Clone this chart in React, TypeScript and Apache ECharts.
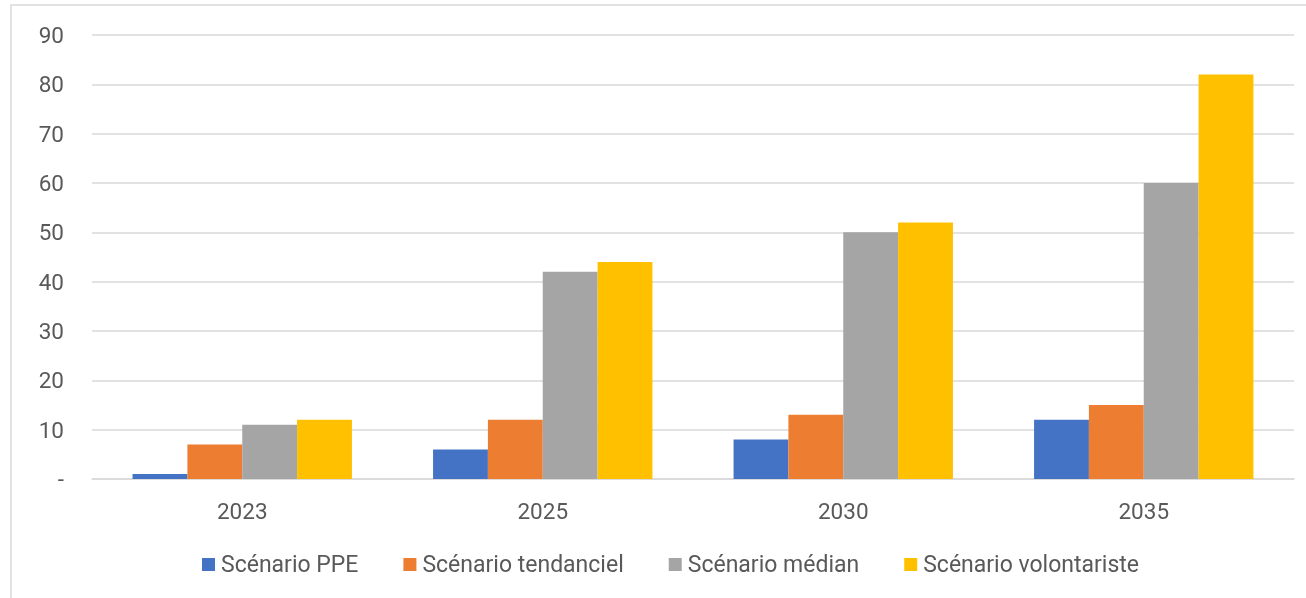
import React, { useEffect, useRef } from "react";
import * as echarts from "echarts";

const categories = ["2023", "2025", "2030", "2035"];
const seriesNames = ["Scénario PPE", "Scénario tendanciel", "Scénario médian", "Scénario volontariste"];
const ppe = [1, 6, 8, 12];
const tendanciel = [7, 12, 13, 15];
const median = [11, 42, 50, 60];
const volontariste = [12, 44, 52, 82];
const colors = ["#4472C4", "#ED7D31", "#A5A5A5", "#FFC000"];

export default function App() {
  const ref = useRef<HTMLDivElement>(null);
  useEffect(() => {
    document.body.style.margin = "0";
    document.body.style.overflow = "hidden";
    const chart = echarts.init(ref.current!, undefined, { renderer: "svg" });
    const values = [ppe, tendanciel, median, volontariste];
    const font = "Roboto, 'Noto Sans', sans-serif";
    chart.setOption({
      animation: false,
      color: colors,
      textStyle: { fontFamily: font },
      graphic: [
        {
          type: "rect",
          shape: { x: 11, y: 5, width: 1310, height: 610 },
          style: { fill: "none", stroke: "#d9d9d9", lineWidth: 1.5 },
          silent: true,
        },
      ],
      grid: { left: 92, right: 12, top: 35, bottom: 119, containLabel: false },
      legend: {
        data: seriesNames,
        left: 202,
        top: 553,
        padding: 0,
        itemWidth: 13,
        itemHeight: 13,
        itemGap: 45,
        icon: "rect",
        textStyle: { color: "#595959", fontSize: 23, fontFamily: font, padding: [0, 0, 0, 1] },
      },
      xAxis: {
        type: "category",
        data: categories,
        axisLine: { lineStyle: { color: "#d9d9d9", width: 1.5 } },
        axisTick: { show: false },
        axisLabel: { color: "#595959", fontSize: 22.5, margin: 20, fontFamily: font },
      },
      yAxis: {
        type: "value",
        min: 0,
        max: 90,
        interval: 10,
        axisLine: { show: false },
        axisTick: { show: false },
        splitLine: { lineStyle: { color: "#d9d9d9", width: 1.5 } },
        axisLabel: {
          color: "#595959",
          fontSize: 22.5,
          margin: 28,
          fontFamily: font,
          formatter: (v: number) => (v === 0 ? "-" : String(v)),
        },
      },
      series: seriesNames.map((name, i) => ({
        name,
        type: "bar",
        data: values[i],
        barGap: "0%",
        barCategoryGap: "27%",
        itemStyle: { color: colors[i] },
      })),
    });
    return () => chart.dispose();
  }, []);
  return <div ref={ref} style={{ position: "fixed", left: 0, top: 0, width: 1306, height: 598 }} />;
}
